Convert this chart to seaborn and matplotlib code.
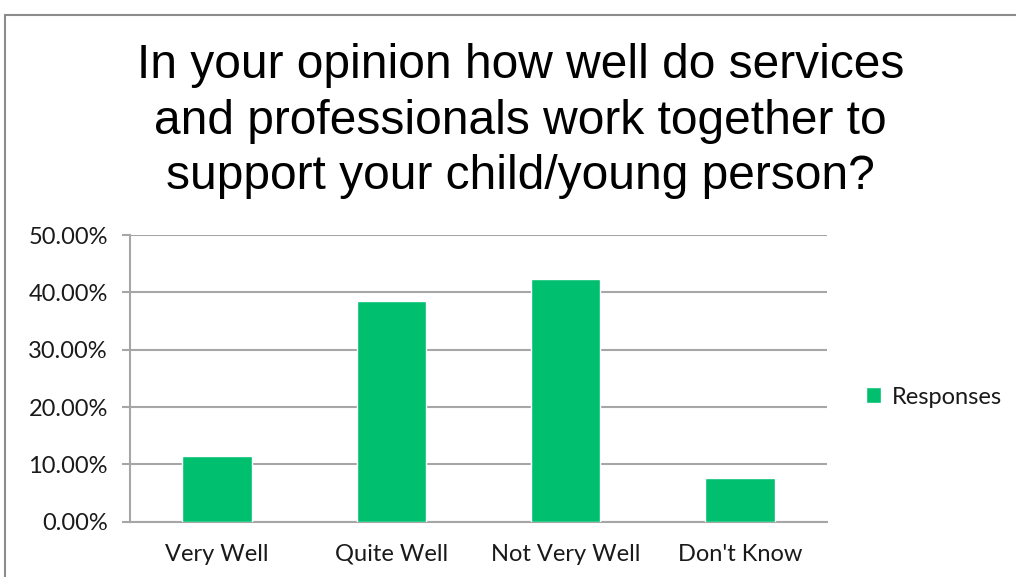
import matplotlib
matplotlib.use("Agg")
import matplotlib.pyplot as plt
import matplotlib.ticker as mticker
from matplotlib.patches import Rectangle
import seaborn as sns
import pandas as pd

categories = ["Very Well", "Quite Well", "Not Very Well", "Don't Know"]
responses = [0.1154, 0.3846, 0.4231, 0.0769]
y_ticks = [0.0, 0.1, 0.2, 0.3, 0.4, 0.5]
series_name = "Responses"
title = ("In your opinion how well do services\n"
         "and professionals work together to\n"
         "support your child/young person?")

df = pd.DataFrame({"category": categories, "value": responses})

sns.set_theme(style="white")
plt.rcParams["font.family"] = ["Lato", "DejaVu Sans"]

bar_color = "#00BF6F"
grid_color = "#A6A6A6"
text_color = "#1a1a1a"

fig = plt.figure(figsize=(10.16, 5.77), dpi=100)
fig.patch.set_facecolor("white")

# outer chart frame
fig.patches.append(Rectangle((5 / 1016, -0.05), 1.2, 1 - 15 / 577 + 0.05,
                             transform=fig.transFigure, fill=False,
                             edgecolor="#8C8C8C", linewidth=1.5, zorder=0))

ax = fig.add_axes([130 / 1016, 1 - 521.7 / 577, 697 / 1016, (521.7 - 235) / 577])

sns.barplot(data=df, x="category", y="value", color=bar_color, width=0.4,
            saturation=1, ax=ax, label=series_name, zorder=3)

ax.set_ylim(0, 0.5)
ax.set_xlim(-0.5, len(categories) - 0.5)
ax.set_yticks(y_ticks)
ax.yaxis.set_major_formatter(mticker.PercentFormatter(xmax=1, decimals=2))
ax.set_xlabel("")
ax.set_ylabel("")

ax.grid(axis="y", color=grid_color, linewidth=1.5, zorder=0)
ax.set_axisbelow(True)
for side in ["top", "right"]:
    ax.spines[side].set_visible(False)
for side in ["left", "bottom"]:
    ax.spines[side].set_color(grid_color)
    ax.spines[side].set_linewidth(1.5)

# category boundary ticks on the x axis
ax.set_xticks([i - 0.5 for i in range(len(categories) + 1)], minor=True)
ax.tick_params(axis="x", which="minor", length=7, width=1.5, color=grid_color,
               direction="out")
ax.tick_params(axis="x", which="major", length=0, pad=16, labelsize=17,
               labelcolor=text_color)
ax.tick_params(axis="y", which="major", left=True, length=6, width=1.5,
               color=grid_color, direction="out", pad=10, labelsize=17,
               labelcolor=text_color)

fig.text(0.512, 1 - 121 / 577, title, ha="center", va="center",
         fontsize=34.5, family=["Liberation Sans", "DejaVu Sans"],
         linespacing=1.29, color="black")

leg = ax.legend(loc="center left", bbox_to_anchor=(866 / 1016, 1 - 397 / 577),
                bbox_transform=fig.transFigure, frameon=False, fontsize=17,
                borderpad=0, borderaxespad=0,
                handlelength=0.65, handleheight=0.65, handletextpad=0.45,
                labelcolor=text_color)

fig.savefig("out.png", dpi=100)
